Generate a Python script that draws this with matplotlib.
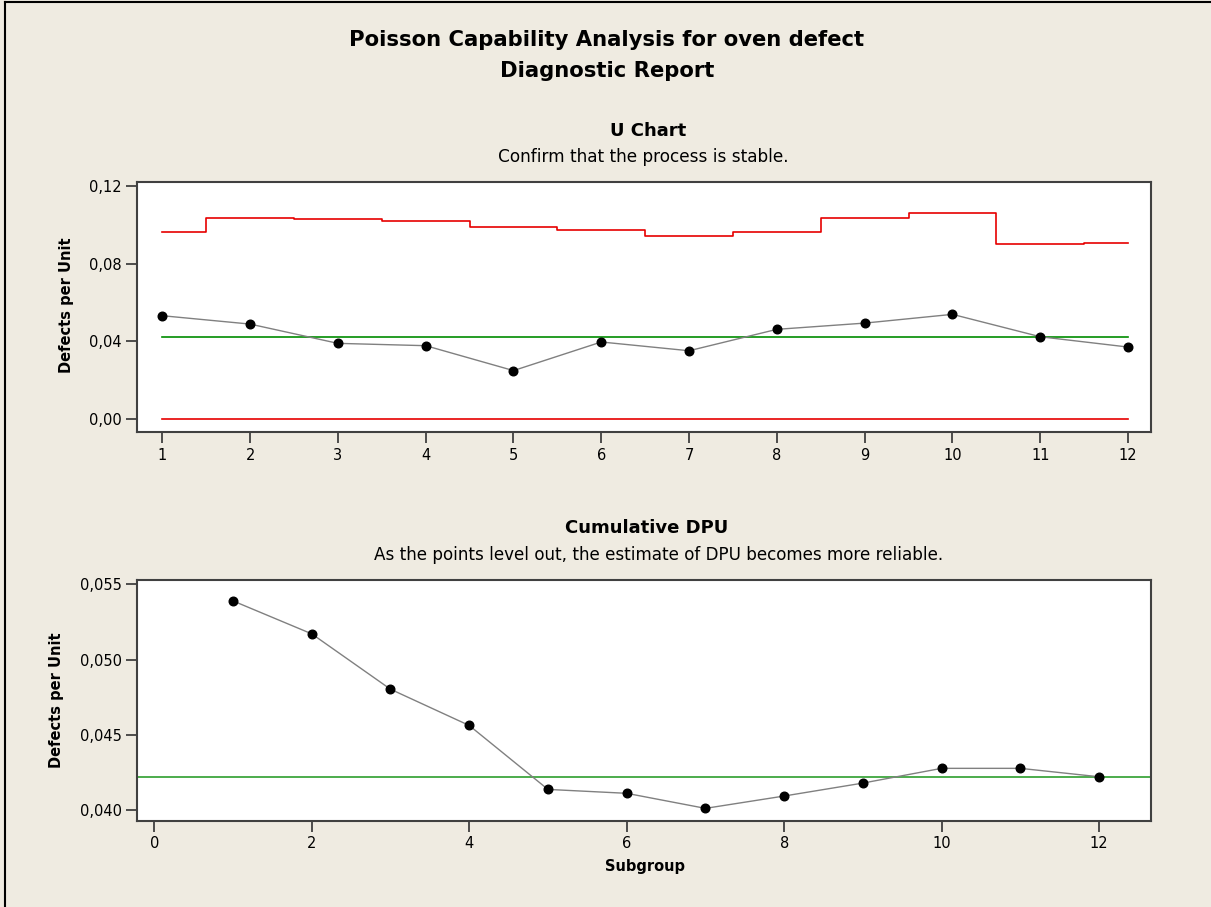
import numpy as np
import matplotlib.pyplot as plt
from matplotlib.lines import Line2D
from matplotlib.ticker import FuncFormatter

# U chart data (defects per unit by subgroup)
subgroups = [1, 2, 3, 4, 5, 6, 7, 8, 9, 10, 11, 12]
u_values = [0.0532, 0.0489, 0.0390, 0.0378, 0.0250, 0.0397,
            0.0352, 0.0462, 0.0494, 0.0539, 0.0424, 0.0371]
ucl_values = [0.0960, 0.1033, 0.1030, 0.1020, 0.0986, 0.0972,
              0.0940, 0.0960, 0.1032, 0.1061, 0.0900, 0.0907]
lcl_values = [0.0] * 12
u_bar = 0.0422

# cumulative DPU
cum_dpu = [0.05390, 0.05171, 0.04803, 0.04562, 0.04137, 0.04111,
           0.04011, 0.04093, 0.04179, 0.04277, 0.04277, 0.04221]

top_yticks = [0.0, 0.04, 0.08, 0.12]
bot_yticks = [0.040, 0.045, 0.050, 0.055]
bot_xticks = [0, 2, 4, 6, 8, 10, 12]

BG = '#EFEBE1'
SPINE = '#404040'
W, H = 1211, 907

plt.rcParams['font.family'] = ['DejaVu Sans']

fig = plt.figure(figsize=(W / 100, H / 100), dpi=100, facecolor=BG)


def comma_fmt(decimals):
    return FuncFormatter(lambda v, pos: f'{v:.{decimals}f}'.replace('.', ','))


def style_axes(ax):
    ax.set_facecolor('white')
    for s in ax.spines.values():
        s.set_color(SPINE)
        s.set_linewidth(1.5)
    ax.tick_params(direction='out', length=8, width=1.3, color=SPINE,
                   labelsize=10.5, labelcolor='black', pad=3)


def px(x, y):
    return x / W, 1 - y / H


# --- U chart ---
ax1 = fig.add_axes([137.3 / W, 1 - 432.3 / H, (1151.3 - 137.3) / W, (432.3 - 182) / H])
style_axes(ax1)
ax1.step(subgroups, ucl_values, where='mid', color='#E60000', lw=1.2)
ax1.plot([subgroups[0], subgroups[-1]], [lcl_values[0], lcl_values[-1]], color='#E60000', lw=1.2)
ax1.plot([subgroups[0], subgroups[-1]], [u_bar, u_bar], color='#008C00', lw=1.2)
ax1.plot(subgroups, u_values, color='#808080', lw=1.0, marker='o',
         markersize=6.2, markerfacecolor='black', markeredgecolor='black', zorder=3)
ax1.set_xlim(0.715, 12.265)
ax1.set_ylim(-0.0067, 0.1219)
ax1.set_xticks(subgroups)
ax1.set_yticks(top_yticks)
ax1.yaxis.set_major_formatter(comma_fmt(2))

# --- Cumulative DPU ---
ax2 = fig.add_axes([137.3 / W, 1 - 821 / H, (1151 - 137.3) / W, (821 - 580) / H])
style_axes(ax2)
ax2.axhline(u_bar, color='#2E9E2E', lw=1.2)
ax2.plot(subgroups, cum_dpu, color='#808080', lw=1.0, marker='o',
         markersize=6.2, markerfacecolor='black', markeredgecolor='black', zorder=3)
ax2.set_xlim(-0.216, 12.66)
ax2.set_ylim(0.03927, 0.05529)
ax2.set_xticks(bot_xticks)
ax2.set_yticks(bot_yticks)
ax2.yaxis.set_major_formatter(comma_fmt(3))

# --- texts ---
fig.text(*px(607, 40), 'Poisson Capability Analysis for oven defect',
         ha='center', va='center', fontsize=15.2, fontweight='bold')
fig.text(*px(607, 71), 'Diagnostic Report',
         ha='center', va='center', fontsize=15.2, fontweight='bold')
fig.text(*px(648, 131), 'U Chart', ha='center', va='center', fontsize=13, fontweight='bold')
fig.text(*px(643, 157), 'Confirm that the process is stable.', ha='center', va='center', fontsize=12.2)
fig.text(*px(647, 528), 'Cumulative DPU', ha='center', va='center', fontsize=13, fontweight='bold')
fig.text(*px(659, 555), 'As the points level out, the estimate of DPU becomes more reliable.',
         ha='center', va='center', fontsize=12.1)
fig.text(*px(66, 305), 'Defects per Unit', ha='center', va='center', rotation=90,
         fontsize=10.5, fontweight='bold')
fig.text(*px(57, 700), 'Defects per Unit', ha='center', va='center', rotation=90,
         fontsize=10.5, fontweight='bold')
fig.text(*px(645, 866), 'Subgroup', ha='center', va='center', fontsize=10.5, fontweight='bold')

# outer frame (left and top edges visible in the screenshot)
fig.add_artist(Line2D([4.5 / W, 4.5 / W], [0, 1 - 1.5 / H], color='black', lw=1.5))
fig.add_artist(Line2D([4.5 / W, 1], [1 - 1.5 / H, 1 - 1.5 / H], color='black', lw=1.5))

fig.savefig('out.png', dpi=100, facecolor=BG)
